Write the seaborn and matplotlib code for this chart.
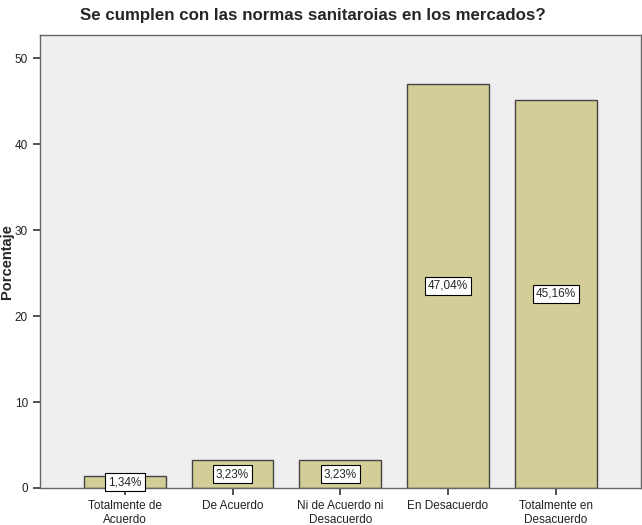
import matplotlib
matplotlib.use("Agg")
import matplotlib.pyplot as plt
import pandas as pd
import seaborn as sns

# Datos
categorias = ['Totalmente de\nAcuerdo', 'De Acuerdo', 'Ni de Acuerdo ni\nDesacuerdo',
              'En Desacuerdo', 'Totalmente en\nDesacuerdo']
porcentajes = [1.34, 3.23, 3.23, 47.04, 45.16]
etiquetas = ['1,34%', '3,23%', '3,23%', '47,04%', '45,16%']

df = pd.DataFrame({'categoria': categorias, 'porcentaje': porcentajes})

sns.set_style("white")
plt.rcParams['font.family'] = ['Liberation Sans', 'DejaVu Sans']

fig = plt.figure(figsize=(6.42, 5.25), dpi=100)
ax = fig.add_axes([0.062, 0.0705, 0.936, 0.8625])
ax.set_facecolor('#efefef')

sns.barplot(data=df, x='categoria', y='porcentaje', color='#d3ce97',
            edgecolor='#444444', linewidth=1.0, width=0.76, saturation=1, ax=ax)

for i, (v, t) in enumerate(zip(porcentajes, etiquetas)):
    ax.text(i, v / 2, t, ha='center', va='center', fontsize=8.5,
            bbox=dict(boxstyle='square,pad=0.25', fc='white', ec='black', lw=0.8))

ax.set_xlim(-0.79, 4.79)
ax.set_ylim(0, 52.7)
ax.set_yticks([0, 10, 20, 30, 40, 50])
ax.tick_params(axis='both', bottom=True, left=True, direction='out', length=5,
               width=1.2, colors='#333333', labelsize=8.5, labelcolor='#222222')
ax.set_xlabel('')
ax.set_ylabel('Porcentaje', fontsize=10.5, fontweight='bold')
ax.yaxis.set_label_coords(-0.043, 0.5)
for s in ax.spines.values():
    s.set_color('#666666')
    s.set_linewidth(1.0)

fig.suptitle('Se cumplen con las normas sanitaroias en los mercados?',
             x=0.488, y=0.985, fontsize=12.2, fontweight='bold')

fig.savefig('out.png', dpi=100)
